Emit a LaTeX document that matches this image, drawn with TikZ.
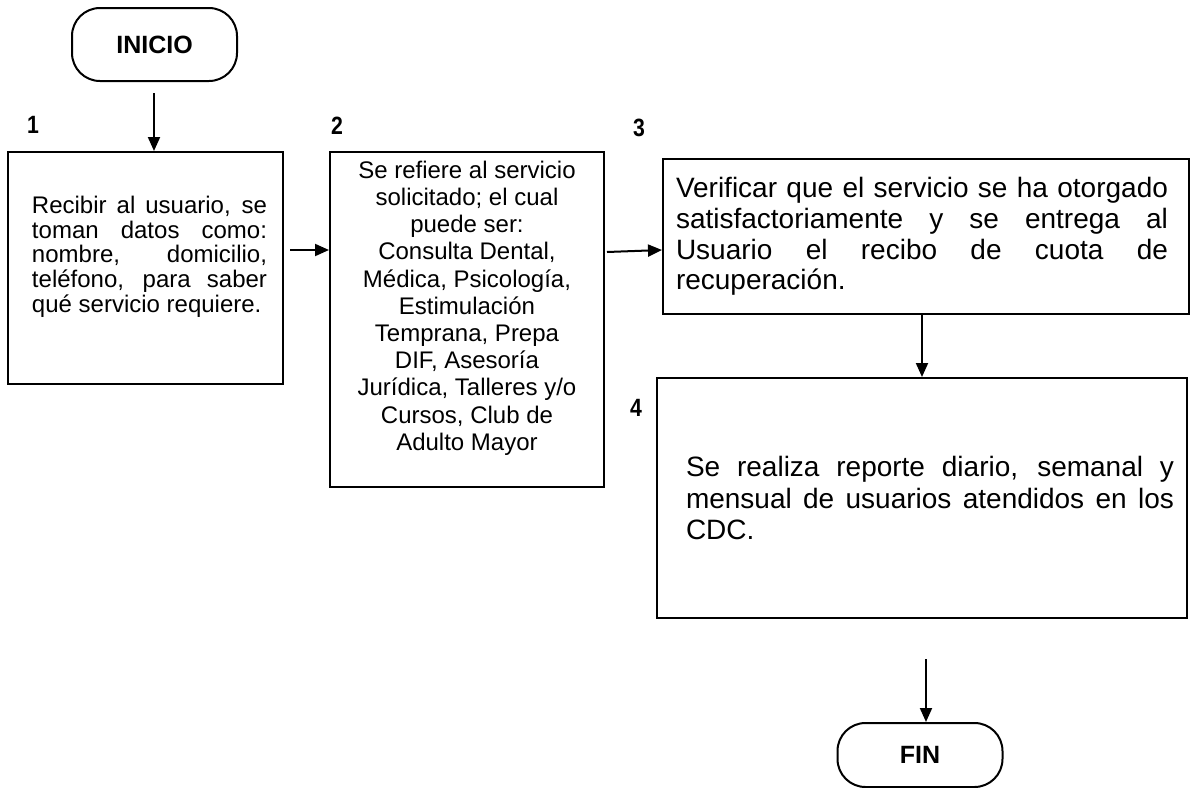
\documentclass[tikz,border=0pt]{standalone}
\usepackage{fontspec}
\setmainfont{Liberation Sans}
\usetikzlibrary{arrows.meta,calc}
\newcommand{\jline}[1]{\makebox[\linewidth][s]{#1}}
\begin{document}
\begin{tikzpicture}[x=0.5pt,y=-0.5pt,
  proc/.style={draw, line width=1pt, rectangle, inner sep=0pt, align=center},
  term/.style={draw, line width=1pt, rounded corners=14pt, inner sep=0pt,
    minimum width=82.5pt, font=\bfseries\fontsize{12.5}{14}\selectfont},
  flow/.style={line width=1pt, -{Triangle[length=7pt,width=6pt]}},
  num/.style={inner sep=0pt, font=\bfseries\fontsize{12.5}{14}\selectfont}]
\useasboundingbox (0,0) rectangle (1191,788);

% terminals
\node[term, minimum height=36.5pt] (ini) at (154.5,44.5) {INICIO};
\node[term, minimum height=32pt] (fin) at (920,755) {FIN};

% step numbers
\node[num] (n1) at (33,125) {\scalebox{0.85}[1]{1}};
\node[num] (n2) at (337,126) {\scalebox{0.85}[1]{2}};
\node[num] (n3) at (639,128) {\scalebox{0.85}[1]{3}};
\node[num] (n4) at (636,408) {\scalebox{0.85}[1]{4}};

% process boxes
\node[proc, minimum width=137.5pt, minimum height=116pt] (b1) at (145.5,268)
  {\hspace*{4pt}\parbox[c][116pt][t]{117.5pt}{\fontsize{12}{12.4}\selectfont
   \vspace*{22pt}%
   \jline{Recibir al usuario, se}\\
   \jline{toman datos como:}\\
   \jline{nombre, domicilio,}\\
   \jline{teléfono, para saber}\\
   qué servicio requiere.}};

\node[proc, minimum width=137pt, minimum height=167.5pt] (b2) at (467,319.5)
  {\parbox[c][167.5pt][t]{134pt}{\centering\fontsize{12}{13.6}\selectfont
   \vspace*{4.5pt}%
   Se refiere al servicio\\
   solicitado; el cual\\
   puede ser:\\
   Consulta Dental,\\
   Médica, Psicología,\\
   Estimulación\\
   Temprana, Prepa\\
   DIF, Asesoría\\
   Jurídica, Talleres y/o\\
   Cursos, Club de\\
   Adulto Mayor}};

\node[proc, minimum width=263pt, minimum height=77.5pt] (b3) at (926,236.5)
  {\hspace*{-4pt}\parbox{246pt}{\fontsize{14}{15.4}\selectfont
   \jline{Verificar que el servicio se ha otorgado}\\
   \jline{satisfactoriamente y se entrega al}\\
   \jline{Usuario el recibo de cuota de}\\
   recuperación.}};

\node[proc, minimum width=265pt, minimum height=120pt] (b4) at (922,498)
  {\hspace*{8pt}\parbox{244pt}{\fontsize{14}{15.6}\selectfont
   \jline{Se realiza reporte diario, semanal y}\\
   \jline{mensual de usuarios atendidos en los}\\
   CDC.}};

% connector start points
\coordinate (s1) at (154,93);
\coordinate (s2) at (290,250);
\coordinate (s3) at (607,252);
\coordinate (s4) at (922,314);
\coordinate (s5) at (926,659);

% connectors
\draw[flow] (s1) -- (s1 |- b1.north);
\draw[flow] (s2) -- (s2 -| b2.west);
\draw[flow] (s3) -- ($(s3 -| b3.west)+(0,-2)$);
\draw[flow] (s4 |- b3.south) -- (s4 |- b4.north);
\draw[flow] (s5) -- (s5 |- fin.north);
\end{tikzpicture}
\end{document}
